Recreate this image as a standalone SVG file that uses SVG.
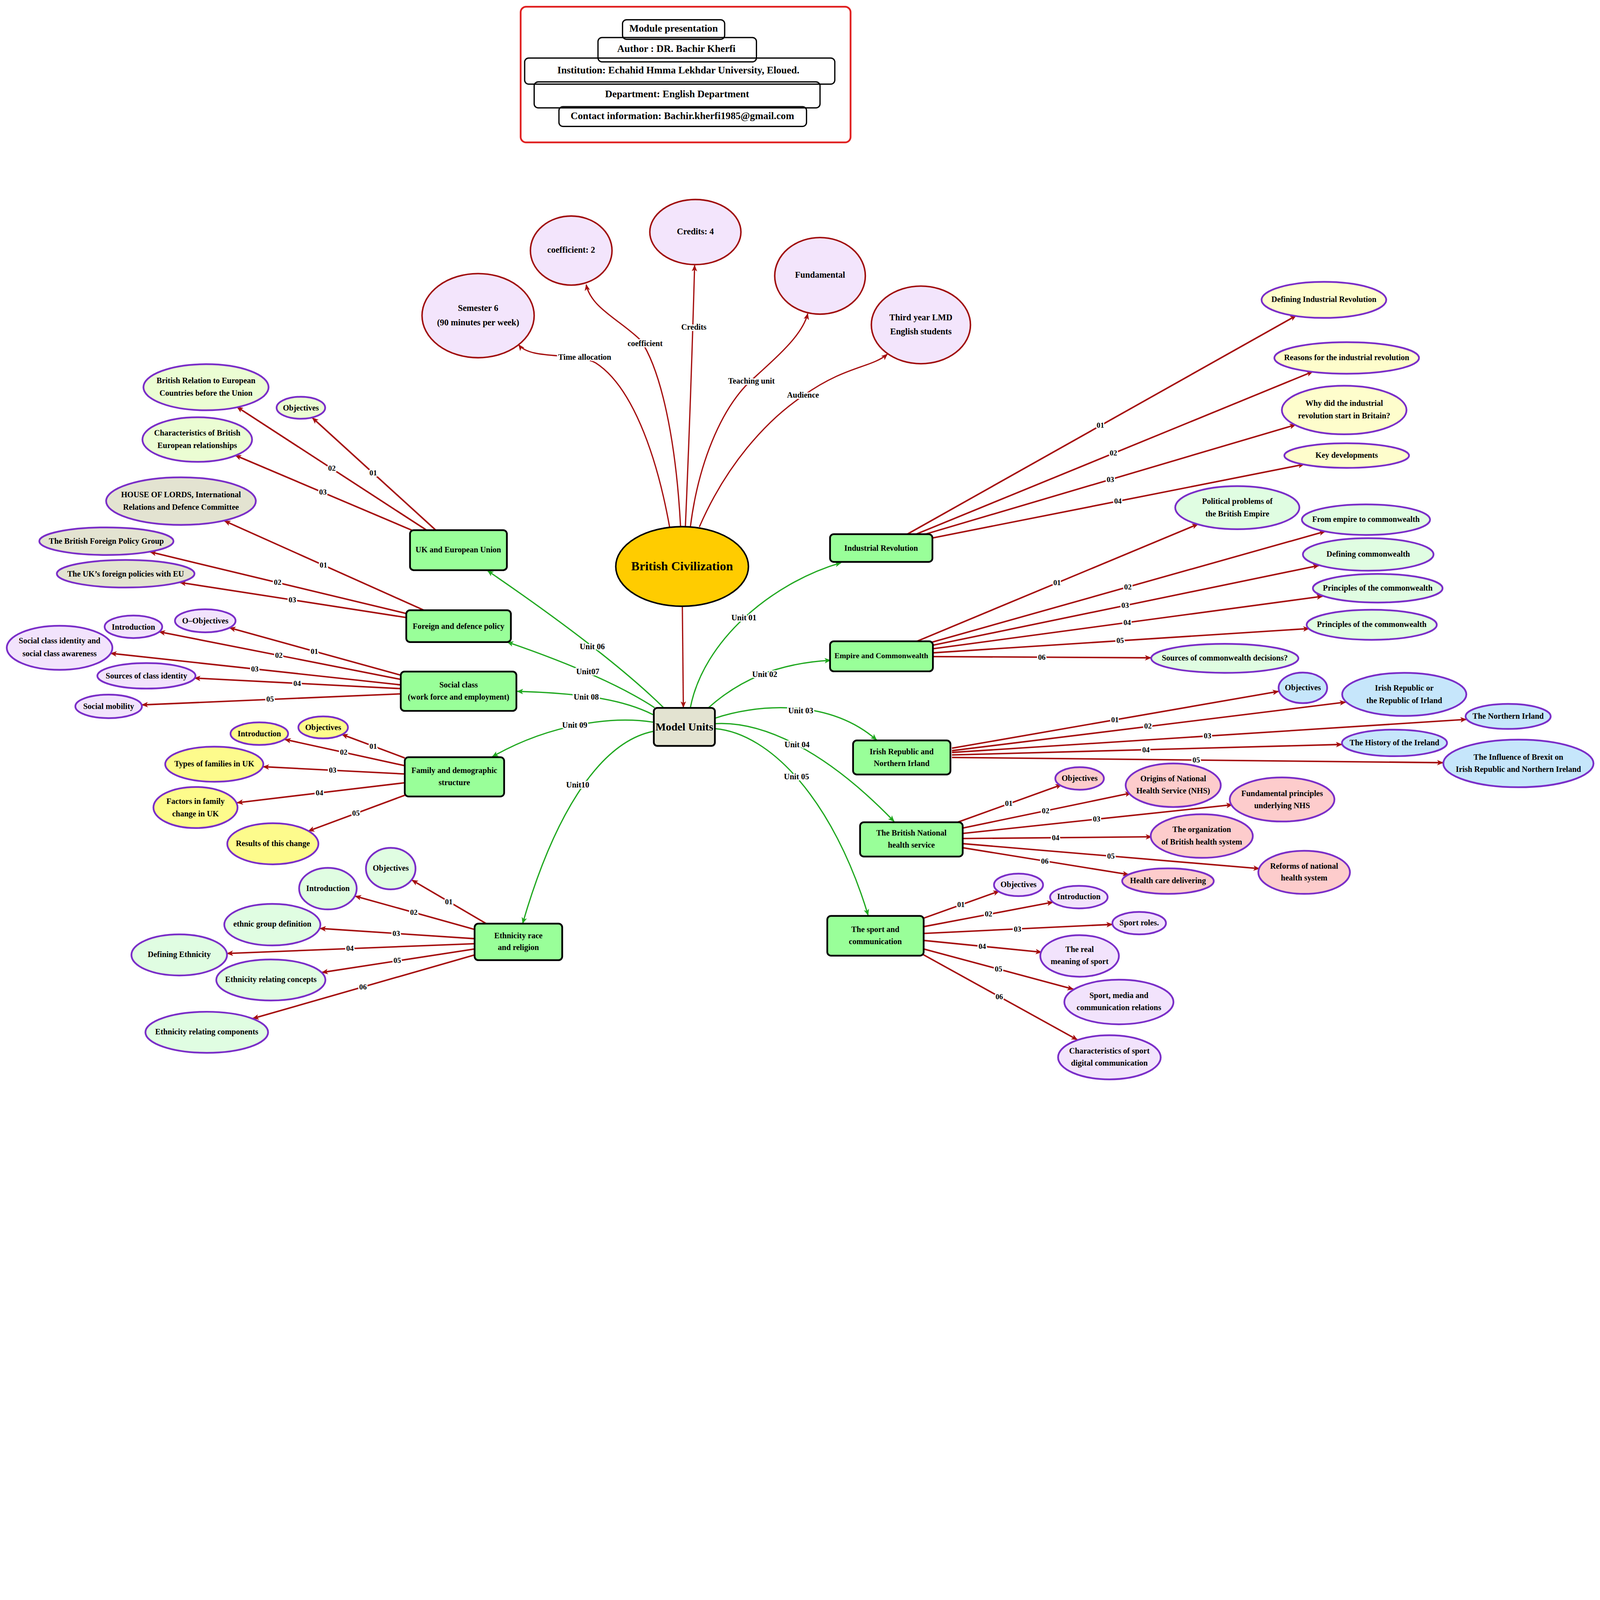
<svg xmlns="http://www.w3.org/2000/svg" width="6392" height="4337" viewBox="0 0 6392 4337" preserveAspectRatio="xMinYMin meet">
<defs>
<style>
svg:root{width:100vw;height:100vh;display:block}
.t{font-family:"Liberation Serif","DejaVu Serif",serif;font-weight:bold;text-anchor:middle;dominant-baseline:central;fill:#000;font-size:32px}
.big{font-size:50px}
.mu{font-size:44px}
.hd{font-size:40px}
.tc{font-size:35px}
.el{font-size:30px;stroke:#fff;stroke-width:10px;paint-order:stroke;stroke-linejoin:round}
.ul{font-size:32px;stroke:#fff;stroke-width:10px;paint-order:stroke;stroke-linejoin:round}
.ub{fill:#99ff99;stroke:#000;stroke-width:7}
.pe{stroke:#7a2ec8;stroke-width:7}
.tcirc{fill:#f3e5fc;stroke:#a00d0d;stroke-width:6}
.lav{fill:#f2e3fc}.ygr{fill:#ebfdd3}.beige{fill:#e3e3d1}.yel{fill:#fdfb8c}.mint{fill:#e0fde2}.lyel{fill:#fefdcc}.blue{fill:#c6e6fb}.pink{fill:#fdcccc}
.re{stroke:#a50f0f;stroke-width:6;fill:none;marker-end:url(#ar)}
.rt{stroke:#a50f0f;stroke-width:5;fill:none;marker-end:url(#ar)}
.ge{stroke:#20a820;stroke-width:5;fill:none;marker-end:url(#ag)}
.hb{fill:none;stroke:#000;stroke-width:5}
</style>
<marker id="ar" viewBox="0 0 12 10" refX="11" refY="5" markerWidth="26" markerHeight="22" markerUnits="userSpaceOnUse" orient="auto"><path d="M0,0 L12,5 L0,10 L3,5 z" fill="#a50f0f"/></marker>
<marker id="ag" viewBox="0 0 12 10" refX="11" refY="5" markerWidth="26" markerHeight="22" markerUnits="userSpaceOnUse" orient="auto"><path d="M0,0 L12,5 L0,10 L3,5 z" fill="#20a820"/></marker>
</defs>
<rect width="6392" height="4337" fill="#fff"/>

<g id="header">
<rect x="2080" y="27" width="1318" height="542" rx="22" fill="#fff" stroke="#e02020" stroke-width="7"/>
<rect class="hb" x="2487" y="79" width="408" height="78" rx="16"/>
<rect class="hb" x="2389" y="150" width="633" height="97" rx="16"/>
<rect class="hb" x="2096" y="232" width="1239" height="104" rx="16"/>
<rect class="hb" x="2134" y="327" width="1142" height="104" rx="16"/>
<rect class="hb" x="2233" y="426" width="989" height="79" rx="16"/>
<text class="t hd" x="2691" y="113">Module presentation</text>
<text class="t hd" x="2702" y="194">Author : DR. Bachir Kherfi</text>
<text class="t hd" x="2710" y="280">Institution: Echahid Hmma Lekhdar University, Eloued.</text>
<text class="t hd" x="2705" y="375">Department: English Department</text>
<text class="t hd" x="2726" y="462">Contact information: Bachir.kherfi1985@gmail.com</text>
</g>

<g id="connectors">
<!-- top -->
<path class="rt" d="M2675,2105 C2620,1800 2520,1540 2380,1450 C2300,1405 2120,1440 2072,1377"/>
<path class="rt" d="M2719,2105 C2700,1750 2640,1480 2560,1360 C2480,1280 2360,1230 2342,1137"/>
<path class="rt" d="M2738,2105 Q2760,1600 2775,1060"/>
<path class="rt" d="M2758,2105 C2790,1850 2880,1640 2990,1530 C3110,1420 3205,1340 3227,1253"/>
<path class="rt" d="M2794,2105 C2900,1860 3060,1680 3210,1580 C3380,1460 3480,1470 3545,1415"/>
<path class="rt" d="M2726,2422 L2730,2826"/>
<text class="t ul" x="2336" y="1426">Time allocation</text>
<text class="t ul" x="2577" y="1372">coefficient</text>
<text class="t ul" x="2772" y="1306">Credits</text>
<text class="t ul" x="3002" y="1522">Teaching unit</text>
<text class="t ul" x="3208" y="1577">Audience</text>

<!-- units -->
<path class="ge" d="M2758,2827 C2810,2560 3080,2330 3360,2248"/>
<path class="ge" d="M2831,2827 C2950,2720 3100,2650 3318,2638"/>
<path class="ge" d="M2857,2869 C3000,2820 3300,2780 3502,2956"/>
<path class="ge" d="M2857,2891 C3050,2880 3300,3000 3572,3282"/>
<path class="ge" d="M2857,2911 C3080,2930 3330,3200 3468,3656"/>
<path class="ge" d="M2651,2827 Q2430,2610 1948,2280"/>
<path class="ge" d="M2615,2827 Q2420,2700 2027,2565"/>
<path class="ge" d="M2609,2855 C2500,2800 2350,2770 2066,2762"/>
<path class="ge" d="M2609,2885 C2450,2860 2200,2890 1967,3023"/>
<path class="ge" d="M2609,2922 C2420,2960 2230,3200 2088,3689"/>
<text class="t ul" x="2972" y="2468">Unit 01</text>
<text class="t ul" x="3055" y="2693">Unit 02</text>
<text class="t ul" x="3199" y="2838">Unit 03</text>
<text class="t ul" x="3184" y="2974">Unit 04</text>
<text class="t ul" x="3182" y="3103">Unit 05</text>
<text class="t ul" x="2366" y="2583">Unit 06</text>
<text class="t ul" x="2348" y="2683">Unit07</text>
<text class="t ul" x="2342" y="2784">Unit 08</text>
<text class="t ul" x="2296" y="2896">Unit 09</text>
<text class="t ul" x="2308" y="3135">Unit10</text>

<!-- UK & EU -->
<path class="re" d="M1741,2118 L1248,1669"/>
<path class="re" d="M1704,2118 L947,1626"/>
<path class="re" d="M1645,2118 L940,1819"/>
<text class="t el" x="1491" y="1889">01</text>
<text class="t el" x="1326" y="1870">02</text>
<text class="t el" x="1290" y="1966">03</text>
<!-- Foreign -->
<path class="re" d="M1694,2438 L897,2081"/>
<path class="re" d="M1623,2451 L600,2205"/>
<path class="re" d="M1623,2467 L719,2327"/>
<text class="t el" x="1292" y="2258">01</text>
<text class="t el" x="1109" y="2326">02</text>
<text class="t el" x="1168" y="2396">03</text>
<!-- Social -->
<path class="re" d="M1600,2697 L917,2508"/>
<path class="re" d="M1600,2714 L636,2524"/>
<path class="re" d="M1600,2736 L442,2610"/>
<path class="re" d="M1600,2751 L777,2709"/>
<path class="re" d="M1600,2772 L567,2816"/>
<text class="t el" x="1256" y="2602">01</text>
<text class="t el" x="1114" y="2618">02</text>
<text class="t el" x="1018" y="2672">03</text>
<text class="t el" x="1187" y="2730">04</text>
<text class="t el" x="1079" y="2793">05</text>
<!-- Family -->
<path class="re" d="M1617,3028 L1366,2934"/>
<path class="re" d="M1617,3059 L1138,2954"/>
<path class="re" d="M1617,3092 L1051,3063"/>
<path class="re" d="M1617,3127 L947,3207"/>
<path class="re" d="M1617,3177 L1232,3320"/>
<text class="t el" x="1491" y="2981">01</text>
<text class="t el" x="1373" y="3005">02</text>
<text class="t el" x="1329" y="3077">03</text>
<text class="t el" x="1276" y="3167">04</text>
<text class="t el" x="1422" y="3248">05</text>
<!-- Ethnicity -->
<path class="re" d="M1943,3690 L1646,3516"/>
<path class="re" d="M1896,3713 L1419,3580"/>
<path class="re" d="M1896,3750 L1278,3709"/>
<path class="re" d="M1896,3770 L907,3809"/>
<path class="re" d="M1896,3791 L1286,3885"/>
<path class="re" d="M1896,3815 L1010,4069"/>
<text class="t el" x="1793" y="3602">01</text>
<text class="t el" x="1653" y="3645">02</text>
<text class="t el" x="1583" y="3729">03</text>
<text class="t el" x="1398" y="3789">04</text>
<text class="t el" x="1587" y="3837">05</text>
<text class="t el" x="1450" y="3942">06</text>
<!-- Industrial -->
<path class="re" d="M3621,2136 L5178,1261"/>
<path class="re" d="M3655,2136 L5244,1485"/>
<path class="re" d="M3690,2136 L5176,1697"/>
<path class="re" d="M3726,2149 L5210,1855"/>
<text class="t el" x="4396" y="1699">01</text>
<text class="t el" x="4448" y="1810">02</text>
<text class="t el" x="4436" y="1915">03</text>
<text class="t el" x="4466" y="2002">04</text>
<!-- Empire -->
<path class="re" d="M3663,2562 L4786,2094"/>
<path class="re" d="M3721,2566 L5294,2123"/>
<path class="re" d="M3726,2578 L5269,2259"/>
<path class="re" d="M3726,2592 L5284,2382"/>
<path class="re" d="M3726,2608 L5230,2511"/>
<path class="re" d="M3726,2623 L4598,2628"/>
<text class="t el" x="4223" y="2327">01</text>
<text class="t el" x="4506" y="2344">02</text>
<text class="t el" x="4495" y="2418">03</text>
<text class="t el" x="4503" y="2487">04</text>
<text class="t el" x="4475" y="2559">05</text>
<text class="t el" x="4162" y="2625">06</text>
<!-- Irish -->
<path class="re" d="M3803,2989 L5108,2762"/>
<path class="re" d="M3803,2999 L5376,2805"/>
<path class="re" d="M3803,3006 L5858,2874"/>
<path class="re" d="M3803,3016 L5361,2974"/>
<path class="re" d="M3803,3026 L5765,3047"/>
<text class="t el" x="4454" y="2876">01</text>
<text class="t el" x="4586" y="2901">02</text>
<text class="t el" x="4824" y="2940">03</text>
<text class="t el" x="4578" y="2995">04</text>
<text class="t el" x="4779" y="3036">05</text>
<!-- NHS -->
<path class="re" d="M3828,3284 L4241,3135"/>
<path class="re" d="M3842,3309 L4519,3168"/>
<path class="re" d="M3842,3330 L4923,3215"/>
<path class="re" d="M3842,3350 L4601,3343"/>
<path class="re" d="M3842,3370 L5031,3470"/>
<path class="re" d="M3842,3386 L4509,3494"/>
<text class="t el" x="4030" y="3209">01</text>
<text class="t el" x="4177" y="3239">02</text>
<text class="t el" x="4381" y="3272">03</text>
<text class="t el" x="4217" y="3346">04</text>
<text class="t el" x="4438" y="3420">05</text>
<text class="t el" x="4174" y="3440">06</text>
<!-- Sport -->
<path class="re" d="M3690,3668 L3992,3560"/>
<path class="re" d="M3690,3702 L4207,3604"/>
<path class="re" d="M3690,3729 L4444,3693"/>
<path class="re" d="M3690,3757 L4161,3804"/>
<path class="re" d="M3690,3791 L4288,3952"/>
<path class="re" d="M3680,3809 L4304,4154"/>
<text class="t el" x="3839" y="3614">01</text>
<text class="t el" x="3949" y="3651">02</text>
<text class="t el" x="4065" y="3711">03</text>
<text class="t el" x="3924" y="3781">04</text>
<text class="t el" x="3989" y="3871">05</text>
<text class="t el" x="3992" y="3981">06</text>
</g>

<!-- top circles -->
<g id="n_semester"><ellipse class="tcirc" cx="1910" cy="1261" rx="224" ry="168"/><text class="t tc"><tspan x="1910" y="1229">Semester 6</tspan><tspan x="1910" y="1287">(90 minutes per week)</tspan></text></g>
<g id="n_coef"><ellipse class="tcirc" cx="2282" cy="1001" rx="163" ry="138"/><text class="t tc" x="2282" y="998">coefficient: 2</text></g>
<g id="n_credits"><ellipse class="tcirc" cx="2778" cy="927" rx="182" ry="130"/><text class="t tc" x="2778" y="924">Credits: 4</text></g>
<g id="n_fund"><ellipse class="tcirc" cx="3276" cy="1102" rx="181" ry="153"/><text class="t tc" x="3276" y="1098">Fundamental</text></g>
<g id="n_third"><ellipse class="tcirc" cx="3679" cy="1298" rx="198" ry="155"/><text class="t tc"><tspan x="3679" y="1267">Third year LMD</tspan><tspan x="3679" y="1324">English students</tspan></text></g>

<g id="n_brit"><ellipse cx="2725" cy="2263" rx="265" ry="159" fill="#ffcc00" stroke="#000" stroke-width="6"/><text class="t big" x="2725" y="2262">British Civilization</text></g>
<g id="n_model"><rect x="2612" y="2828" width="244" height="152" rx="14" fill="#e3e3d1" stroke="#000" stroke-width="7"/><text class="t mu" x="2734" y="2904">Model Units</text></g>

<!-- unit boxes -->
<g id="n_ukeu"><rect class="ub" x="1638" y="2118" width="387" height="160" rx="15"/><text class="t" x="1831" y="2195">UK and European Union</text></g>
<g id="n_fdp"><rect class="ub" x="1623" y="2438" width="418" height="127" rx="15"/><text class="t" x="1832" y="2501">Foreign and defence policy</text></g>
<g id="n_social"><rect class="ub" x="1601" y="2683" width="462" height="157" rx="15"/><text class="t"><tspan x="1832" y="2735">Social class</tspan><tspan x="1832" y="2784">(work force and employment)</tspan></text></g>
<g id="n_family"><rect class="ub" x="1617" y="3025" width="397" height="157" rx="15"/><text class="t"><tspan x="1815" y="3077">Family and demographic</tspan><tspan x="1815" y="3125">structure</tspan></text></g>
<g id="n_eth"><rect class="ub" x="1896" y="3690" width="350" height="146" rx="15"/><text class="t"><tspan x="2071" y="3737">Ethnicity race</tspan><tspan x="2071" y="3784">and religion</tspan></text></g>
<g id="n_ind"><rect class="ub" x="3316" y="2134" width="409" height="111" rx="15"/><text class="t" x="3520" y="2189">Industrial Revolution</text></g>
<g id="n_emp"><rect class="ub" x="3316" y="2562" width="411" height="120" rx="15"/><text class="t" x="3521" y="2619" style="font-size:31px">Empire and Commonwealth</text></g>
<g id="n_irish"><rect class="ub" x="3408" y="2958" width="389" height="136" rx="15"/><text class="t"><tspan x="3602" y="3002">Irish Republic and</tspan><tspan x="3602" y="3049">Northern Irland</tspan></text></g>
<g id="n_nhs"><rect class="ub" x="3436" y="3285" width="410" height="137" rx="15"/><text class="t"><tspan x="3641" y="3327">The British National</tspan><tspan x="3641" y="3375">health service</tspan></text></g>
<g id="n_sport"><rect class="ub" x="3305" y="3659" width="385" height="159" rx="15"/><text class="t"><tspan x="3497" y="3712">The sport and</tspan><tspan x="3497" y="3761">communication</tspan></text></g>

<!-- UK EU children -->
<g id="n_brel"><ellipse class="pe ygr" cx="823" cy="1547" rx="250" ry="92"/><text class="t"><tspan x="823" y="1520">British Relation to European</tspan><tspan x="823" y="1570">Countries before the Union</tspan></text></g>
<g id="n_obj_eu"><ellipse class="pe ygr" cx="1202" cy="1629" rx="97" ry="44"/><text class="t" x="1202" y="1629">Objectives</text></g>
<g id="n_char"><ellipse class="pe ygr" cx="788" cy="1756" rx="219" ry="89"/><text class="t"><tspan x="788" y="1729">Characteristics of British</tspan><tspan x="788" y="1779">European relationships</tspan></text></g>
<!-- Foreign children -->
<g id="n_hol"><ellipse class="pe beige" cx="723" cy="2002" rx="299" ry="95"/><text class="t"><tspan x="723" y="1976">HOUSE OF LORDS, International</tspan><tspan x="723" y="2026">Relations and Defence Committee</tspan></text></g>
<g id="n_bfpg"><ellipse class="pe beige" cx="425" cy="2162" rx="268" ry="55"/><text class="t" x="425" y="2162">The British Foreign Policy Group</text></g>
<g id="n_ukfp"><ellipse class="pe beige" cx="502" cy="2292" rx="275" ry="55"/><text class="t" x="502" y="2292">The UK’s foreign policies with EU</text></g>
<!-- Social children -->
<g id="n_oobj"><ellipse class="pe lav" cx="820" cy="2480" rx="121" ry="46"/><text class="t" x="820" y="2480">O–Objectives</text></g>
<g id="n_sintro"><ellipse class="pe lav" cx="533" cy="2504" rx="115" ry="45"/><text class="t" x="533" y="2504">Introduction</text></g>
<g id="n_sident"><ellipse class="pe lav" cx="238" cy="2588" rx="211" ry="88"/><text class="t"><tspan x="238" y="2560">Social class identity and</tspan><tspan x="238" y="2611">social class awareness</tspan></text></g>
<g id="n_ssrc"><ellipse class="pe lav" cx="585" cy="2700" rx="196" ry="51"/><text class="t" x="585" y="2699">Sources of class identity</text></g>
<g id="n_smob"><ellipse class="pe lav" cx="434" cy="2822" rx="133" ry="47"/><text class="t" x="434" y="2821">Social mobility</text></g>
<!-- Family children -->
<g id="n_fobj"><ellipse class="pe yel" cx="1291" cy="2906" rx="99" ry="44"/><text class="t" x="1291" y="2905">Objectives</text></g>
<g id="n_fintro"><ellipse class="pe yel" cx="1036" cy="2931" rx="115" ry="45"/><text class="t" x="1036" y="2930">Introduction</text></g>
<g id="n_ftypes"><ellipse class="pe yel" cx="856" cy="3053" rx="196" ry="70"/><text class="t" x="856" y="3051">Types of families in UK</text></g>
<g id="n_ffact"><ellipse class="pe yel" cx="781" cy="3226" rx="168" ry="82"/><text class="t"><tspan x="781" y="3200">Factors in family</tspan><tspan x="781" y="3250">change in UK</tspan></text></g>
<g id="n_fres"><ellipse class="pe yel" cx="1090" cy="3371" rx="182" ry="82"/><text class="t" x="1090" y="3369">Results of this change</text></g>
<!-- Ethnicity children -->
<g id="n_eobj"><ellipse class="pe mint" cx="1561" cy="3470" rx="99" ry="83"/><text class="t" x="1561" y="3468">Objectives</text></g>
<g id="n_eintro"><ellipse class="pe mint" cx="1310" cy="3550" rx="115" ry="83"/><text class="t" x="1310" y="3548">Introduction</text></g>
<g id="n_egrp"><ellipse class="pe mint" cx="1088" cy="3694" rx="192" ry="83"/><text class="t" x="1088" y="3691">ethnic group definition</text></g>
<g id="n_edef"><ellipse class="pe mint" cx="716" cy="3815" rx="191" ry="82"/><text class="t" x="716" y="3813">Defining Ethnicity</text></g>
<g id="n_econ"><ellipse class="pe mint" cx="1082" cy="3915" rx="218" ry="82"/><text class="t" x="1082" y="3913">Ethnicity relating concepts</text></g>
<g id="n_ecomp"><ellipse class="pe mint" cx="826" cy="4124" rx="245" ry="82"/><text class="t" x="826" y="4122">Ethnicity relating components</text></g>
<!-- Industrial children -->
<g id="n_idef"><ellipse class="pe lyel" cx="5289" cy="1198" rx="249" ry="72"/><text class="t" x="5289" y="1196">Defining Industrial Revolution</text></g>
<g id="n_ireas"><ellipse class="pe lyel" cx="5380" cy="1430" rx="289" ry="63"/><text class="t" x="5380" y="1428">Reasons for the industrial revolution</text></g>
<g id="n_iwhy"><ellipse class="pe lyel" cx="5370" cy="1638" rx="249" ry="97"/><text class="t"><tspan x="5370" y="1611">Why did the industrial</tspan><tspan x="5370" y="1660">revolution start in Britain?</tspan></text></g>
<g id="n_ikey"><ellipse class="pe lyel" cx="5380" cy="1820" rx="249" ry="49"/><text class="t" x="5380" y="1818">Key developments</text></g>
<!-- Empire children -->
<g id="n_epol"><ellipse class="pe mint" cx="4943" cy="2028" rx="248" ry="86"/><text class="t"><tspan x="4943" y="2002">Political problems of</tspan><tspan x="4943" y="2052">the British Empire</tspan></text></g>
<g id="n_efrom"><ellipse class="pe mint" cx="5457" cy="2076" rx="256" ry="61"/><text class="t" x="5457" y="2074">From empire to commonwealth</text></g>
<g id="n_edefc"><ellipse class="pe mint" cx="5466" cy="2215" rx="261" ry="65"/><text class="t" x="5466" y="2213">Defining commonwealth</text></g>
<g id="n_eprin1"><ellipse class="pe mint" cx="5504" cy="2350" rx="259" ry="57"/><text class="t" x="5504" y="2348">Principles of the commonwealth</text></g>
<g id="n_eprin2"><ellipse class="pe mint" cx="5480" cy="2496" rx="260" ry="60"/><text class="t" x="5480" y="2494">Principles of the commonwealth</text></g>
<g id="n_esrc"><ellipse class="pe mint" cx="4893" cy="2630" rx="294" ry="58"/><text class="t" x="4893" y="2628">Sources of commonwealth decisions?</text></g>
<!-- Irish children -->
<g id="n_robj"><ellipse class="pe blue" cx="5205" cy="2748" rx="97" ry="61"/><text class="t" x="5205" y="2746">Objectives</text></g>
<g id="n_rrep"><ellipse class="pe blue" cx="5610" cy="2774" rx="248" ry="86"/><text class="t"><tspan x="5610" y="2748">Irish Republic or</tspan><tspan x="5610" y="2798">the Republic of Irland</tspan></text></g>
<g id="n_rni"><ellipse class="pe blue" cx="6025" cy="2862" rx="170" ry="50"/><text class="t" x="6025" y="2860">The Northern Irland</text></g>
<g id="n_rhist"><ellipse class="pe blue" cx="5571" cy="2968" rx="210" ry="53"/><text class="t" x="5571" y="2966">The History of the Ireland</text></g>
<g id="n_rbrex"><ellipse class="pe blue" cx="6066" cy="3050" rx="300" ry="95"/><text class="t"><tspan x="6066" y="3024">The Influence of Brexit on</tspan><tspan x="6066" y="3072">Irish Republic and Northern Ireland</tspan></text></g>
<!-- NHS children -->
<g id="n_hobj"><ellipse class="pe pink" cx="4313" cy="3110" rx="97" ry="45"/><text class="t" x="4313" y="3108">Objectives</text></g>
<g id="n_horig"><ellipse class="pe pink" cx="4687" cy="3137" rx="190" ry="87"/><text class="t"><tspan x="4687" y="3110">Origins of National</tspan><tspan x="4687" y="3159">Health Service (NHS)</tspan></text></g>
<g id="n_hfund"><ellipse class="pe pink" cx="5122" cy="3194" rx="209" ry="88"/><text class="t"><tspan x="5122" y="3169">Fundamental principles</tspan><tspan x="5122" y="3218">underlying NHS</tspan></text></g>
<g id="n_horg"><ellipse class="pe pink" cx="4801" cy="3340" rx="204" ry="87"/><text class="t"><tspan x="4801" y="3313">The organization</tspan><tspan x="4801" y="3363">of British health system</tspan></text></g>
<g id="n_href"><ellipse class="pe pink" cx="5210" cy="3485" rx="183" ry="86"/><text class="t"><tspan x="5210" y="3459">Reforms of national</tspan><tspan x="5210" y="3507">health system</tspan></text></g>
<g id="n_hcare"><ellipse class="pe pink" cx="4666" cy="3520" rx="183" ry="51"/><text class="t" x="4666" y="3518">Health care delivering</text></g>
<!-- Sport children -->
<g id="n_pobj"><ellipse class="pe lav" cx="4069" cy="3535" rx="98" ry="45"/><text class="t" x="4069" y="3533">Objectives</text></g>
<g id="n_pintro"><ellipse class="pe lav" cx="4310" cy="3584" rx="115" ry="45"/><text class="t" x="4310" y="3582">Introduction</text></g>
<g id="n_proles"><ellipse class="pe lav" cx="4551" cy="3688" rx="107" ry="45"/><text class="t" x="4551" y="3686">Sport roles.</text></g>
<g id="n_preal"><ellipse class="pe lav" cx="4313" cy="3819" rx="157" ry="83"/><text class="t"><tspan x="4313" y="3792">The real</tspan><tspan x="4313" y="3841">meaning of sport</tspan></text></g>
<g id="n_pmedia"><ellipse class="pe lav" cx="4470" cy="4003" rx="218" ry="89"/><text class="t"><tspan x="4470" y="3976">Sport, media and</tspan><tspan x="4470" y="4025">communication relations</tspan></text></g>
<g id="n_pchar"><ellipse class="pe lav" cx="4432" cy="4224" rx="205" ry="88"/><text class="t"><tspan x="4432" y="4198">Characteristics of sport</tspan><tspan x="4432" y="4246">digital communication</tspan></text></g>
</svg>
